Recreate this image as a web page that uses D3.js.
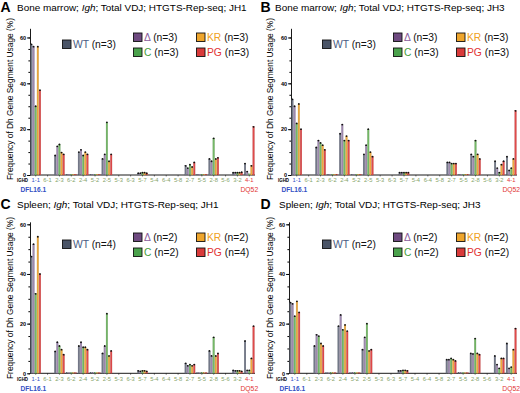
<!DOCTYPE html>
<html lang="en">
<head>
<meta charset="UTF-8">
<title>Dh gene segment usage</title>
<script src="https://d3js.org/d3.v7.min.js"></script>
<style>
    body { margin: 0; background: #fff; }
    svg { display: block; font-family: "Liberation Sans", Arial, Helvetica, sans-serif; }
</style>
</head>
<body>
<div id="chart"></div>
<script>
    // Dh segments in genomic order
    const categories = ["1-1", "6-1", "2-3", "6-2", "2-4", "5-2", "2-5", "5-3", "6-3", "5-7",
        "5-4", "6-4", "5-8", "2-7", "5-5", "2-8", "5-6", "3-2", "4-1"];
    const series = ["WT", "Δ", "C", "KR", "PG"];
    const barColors = ["#727888", "#9d88ae", "#74b866", "#eeaa3e", "#e04a4a"];
    const keyColors = ["#4b5568", "#6e4a80", "#4aa24c", "#eea52c", "#d93a3a"];
    const textColors = ["#4a5b82", "#8a5c9c", "#46a040", "#f0a020", "#e23434"];
    const yTicks = [0, 20, 40, 60];

    // % usage, one row per series (WT, Δ, C, KR, PG)
    const bmJH1 = [
        [57, 0, 8.5, 0.3, 10, 0.3, 7, 0, 0, 0.8, 0, 0, 0, 4, 0.3, 7, 0, 1, 5],
        [56, 0, 12.5, 0.3, 11, 0.3, 9, 0, 0, 0.8, 0, 0, 0, 3, 0.3, 6, 0, 1, 1.5],
        [30, 0, 13.3, 0.3, 8.5, 0.3, 23, 0, 0, 1, 0, 0, 0, 4.5, 0.3, 16, 0, 1, 0.5],
        [56, 0, 9.8, 0.3, 10, 0.3, 6, 0, 0, 1, 0, 0, 0, 3.5, 0.3, 7, 0, 1, 4],
        [37, 0, 9, 0.3, 9, 0.3, 9, 0, 0, 0.8, 0, 0, 0, 5.5, 0.3, 7.5, 0, 1.2, 21]
    ];
    const bmJH3 = [
        [33, 0, 12, 0.3, 18, 0.3, 9, 0, 0, 1, 0, 0, 0, 5.5, 0.3, 9, 0, 6, 8],
        [30, 0, 15, 0.3, 22, 0.3, 13, 0, 0, 1, 0, 0, 0, 5.5, 0.3, 8, 0, 3, 2],
        [22.5, 0, 14, 0.3, 15, 0.3, 20, 0, 0, 1, 0, 0, 0, 5, 0.3, 15, 0, 1, 3],
        [31, 0, 13, 0.3, 17, 0.3, 10, 0, 0, 1, 0, 0, 0, 5, 0.3, 9, 0, 4.5, 7],
        [20, 0, 11, 0.3, 15, 0.3, 8, 0, 0, 1, 0, 0, 0, 5, 0.3, 7, 0, 6, 28]
    ];
    const spJH1 = [
        [47, 0, 8.8, 0.3, 11, 0.3, 8, 0, 0, 1, 0, 0, 0, 4, 0.3, 9, 0, 1.2, 13],
        [52, 0, 12.5, 0.3, 12.5, 0.3, 11, 0, 0, 0.8, 0, 0, 0, 3, 0.3, 7, 0, 1, 1.2],
        [32, 0, 11, 0.3, 10.5, 0.3, 24, 0, 0, 1, 0, 0, 0, 3.5, 0.3, 14.5, 0, 1, 1.2],
        [55, 0, 9.5, 0.3, 10.5, 0.3, 7, 0, 0, 1, 0, 0, 0, 3, 0.3, 7, 0, 1, 6],
        [40, 0, 7.5, 0.3, 9.5, 0.3, 9, 0, 0, 0.8, 0, 0, 0, 3.5, 0.3, 8, 0, 0.8, 19]
    ];
    const spJH3 = [
        [28.5, 0, 11, 0.3, 19, 0.3, 9.5, 0, 0, 1, 0, 0, 0, 5.5, 0.3, 8, 0, 7, 12],
        [28, 0, 15.5, 0.3, 23.5, 0.3, 14.5, 0, 0, 1, 0, 0, 0, 5.5, 0.3, 7.8, 0, 3.5, 2],
        [23, 0, 15, 0.3, 17.5, 0.3, 20, 0, 0, 1.2, 0, 0, 0, 6, 0.3, 14, 0, 2, 2.5],
        [29, 0, 12, 0.3, 19.5, 0.3, 9, 0, 0, 1.2, 0, 0, 0, 5.5, 0.3, 8, 0, 6, 9.5],
        [24.5, 0, 11, 0.3, 17, 0.3, 9.5, 0, 0, 1, 0, 0, 0, 5, 0.3, 7.5, 0, 6, 18]
    ];

    const panels = [
        { letter: "A", tissue: "Bone marrow", jh: "JH1", n: [3, 3, 3, 3, 3], data: bmJH1,
          left: 0, top: 0, titleX: 17, x0: 30, x1: 255, y0: 175, yMax: 64, pxPerUnit: 2.292, yMid: 99, legDy: 0 },
        { letter: "B", tissue: "Bone marrow", jh: "JH3", n: [3, 3, 3, 3, 3], data: bmJH3,
          left: 260, top: 0, titleX: 275, x0: 291, x1: 517, y0: 175, yMax: 64, pxPerUnit: 2.292, yMid: 99, legDy: 0 },
        { letter: "C", tissue: "Spleen", jh: "JH1", n: [4, 2, 2, 2, 4], data: spJH1,
          left: 0, top: 197, titleX: 17, x0: 30, x1: 255, y0: 373.3, yMax: 61, pxPerUnit: 2.483, yMid: 298, legDy: 3 },
        { letter: "D", tissue: "Spleen", jh: "JH3", n: [2, 2, 2, 2, 2], data: spJH3,
          left: 260, top: 197, titleX: 279, x0: 289, x1: 517, y0: 373.3, yMax: 61, pxPerUnit: 2.483, yMid: 298, legDy: 3 }
    ];

    const width = 520;
    const height = 393;

    const svg = d3.select("#chart")
        .append("svg")
        .attr("width", width)
        .attr("height", height)
        .attr("viewBox", [0, 0, width, height]);

    panels.forEach(p => {
        const g = svg.append("g");

        // heading
        g.append("text")
            .attr("x", p.left + 0.5)
            .attr("y", p.top + 12)
            .attr("font-size", 14)
            .attr("font-weight", "bold")
            .text(p.letter);

        const title = g.append("text")
            .attr("x", p.titleX)
            .attr("y", p.top + 10.5)
            .attr("font-size", 9.95);
        title.append("tspan").text(p.tissue + "; ");
        title.append("tspan").attr("font-style", "italic").text("Igh");
        title.append("tspan").text("; Total VDJ; HTGTS-Rep-seq; " + p.jh);

        // scales
        const x = d3.scaleBand()
            .domain(categories)
            .range([p.x0, p.x1])
            .paddingInner(0.14)
            .paddingOuter(0.05);

        const xs = d3.scaleBand()
            .domain(series)
            .range([0, x.bandwidth()])
            .paddingInner(0.22);

        const y = d3.scaleLinear()
            .domain([0, p.yMax])
            .range([p.y0, p.y0 - p.yMax * p.pxPerUnit]);

        // y axis with minor ticks every 5
        g.append("g")
            .attr("transform", `translate(${p.x0},0)`)
            .call(d3.axisLeft(y).tickValues(d3.range(0, p.yMax, 5)).tickSize(1.6).tickFormat("").tickSizeOuter(0))
            .call(a => a.select(".domain").attr("stroke-width", 0.9));

        g.append("g")
            .attr("transform", `translate(${p.x0},0)`)
            .call(d3.axisLeft(y).tickValues(yTicks).tickSize(3).tickPadding(1).tickSizeOuter(0))
            .call(a => a.select(".domain").remove())
            .call(a => a.selectAll("line").attr("stroke-width", 0.9))
            .call(a => a.selectAll("text").attr("font-size", 5.5).attr("font-weight", "bold")
                .attr("font-family", "Liberation Sans, Arial, sans-serif"));

        // x baseline
        g.append("line")
            .attr("x1", p.x0)
            .attr("x2", p.x1)
            .attr("y1", y(0))
            .attr("y2", y(0))
            .attr("stroke", "#000")
            .attr("stroke-width", 0.9);

        g.append("g")
            .selectAll("line")
            .data(categories)
            .join("line")
            .attr("x1", d => x(d) + x.bandwidth() / 2)
            .attr("x2", d => x(d) + x.bandwidth() / 2)
            .attr("y1", y(0))
            .attr("y2", y(0) + 1.5)
            .attr("stroke", "#000")
            .attr("stroke-width", 0.5);

        // y title
        g.append("text")
            .attr("transform", `translate(${p.left + 13},${p.yMid}) rotate(-90)`)
            .attr("text-anchor", "middle")
            .attr("font-size", 9.6)
            .attr("textLength", 162)
            .attr("lengthAdjust", "spacingAndGlyphs")
            .text("Frequency of Dh Gene Segment Usage (%)");

        // bars
        const cells = [];
        p.data.forEach((vals, si) => {
            vals.forEach((v, ci) => cells.push({ s: series[si], si, c: categories[ci], v }));
        });

        g.append("g")
            .selectAll("rect")
            .data(cells.filter(d => d.v > 0))
            .join("rect")
            .attr("x", d => x(d.c) + xs(d.s))
            .attr("y", d => y(d.v))
            .attr("width", xs.bandwidth())
            .attr("height", d => y(0) - y(d.v))
            .attr("fill", d => barColors[d.si])
            .attr("stroke", d => d3.color(barColors[d.si]).darker(0.8))
            .attr("stroke-width", 0.25);

        g.append("g")
            .selectAll("circle")
            .data(cells.filter(d => d.v > 0.5))
            .join("circle")
            .attr("cx", d => x(d.c) + xs(d.s) + xs.bandwidth() / 2)
            .attr("cy", d => y(d.v))
            .attr("r", 0.9)
            .attr("fill", "#111");

        // category labels
        const labelY = p.y0 + 7.3;
        g.append("text")
            .attr("x", p.x0 - 2)
            .attr("y", labelY)
            .attr("text-anchor", "end")
            .attr("font-size", 5.6)
            .attr("font-weight", "bold")
            .attr("textLength", 11)
            .attr("lengthAdjust", "spacingAndGlyphs")
            .text("IGHD");

        g.append("g")
            .selectAll("text")
            .data(categories)
            .join("text")
            .attr("x", d => x(d) + x.bandwidth() / 2)
            .attr("y", labelY)
            .attr("text-anchor", "middle")
            .attr("font-size", 5.8)
            .attr("fill", d => d === "1-1" ? "#3350c4" : d === "4-1" ? "#e23434" : "#86a46a")
            .text(d => d);

        g.append("text")
            .attr("x", p.x0 - 9.5)
            .attr("y", labelY + 10)
            .attr("font-size", 6.6)
            .attr("font-weight", "bold")
            .attr("fill", "#3350c4")
            .text("DFL16.1");

        g.append("text")
            .attr("x", x("4-1") + x.bandwidth() / 2)
            .attr("y", labelY + 10)
            .attr("text-anchor", "middle")
            .attr("font-size", 6.8)
            .attr("fill", "#e23434")
            .text("DQ52");

        // legend
        const legPos = [
            [p.left + 62.5, p.top + 40],
            [p.left + 133.5, p.top + 33],
            [p.left + 133.5, p.top + 48],
            [p.left + 196.5, p.top + 33],
            [p.left + 196.5, p.top + 48]
        ];
        const leg = g.append("g").attr("transform", `translate(0,${p.legDy})`);
        series.forEach((s, i) => {
            const [lx, ly] = legPos[i];
            leg.append("rect")
                .attr("x", lx)
                .attr("y", ly)
                .attr("width", 8.5)
                .attr("height", 8.5)
                .attr("fill", keyColors[i])
                .attr("stroke", "#111")
                .attr("stroke-width", 0.9);
            const t = leg.append("text")
                .attr("x", lx + 10.5)
                .attr("y", ly + 8)
                .attr("font-size", 10.3);
            t.append("tspan").attr("fill", textColors[i]).text(s);
            t.append("tspan").attr("fill", "#111").text(` (n=${p.n[i]})`);
        });
    });
</script>
</body>
</html>
